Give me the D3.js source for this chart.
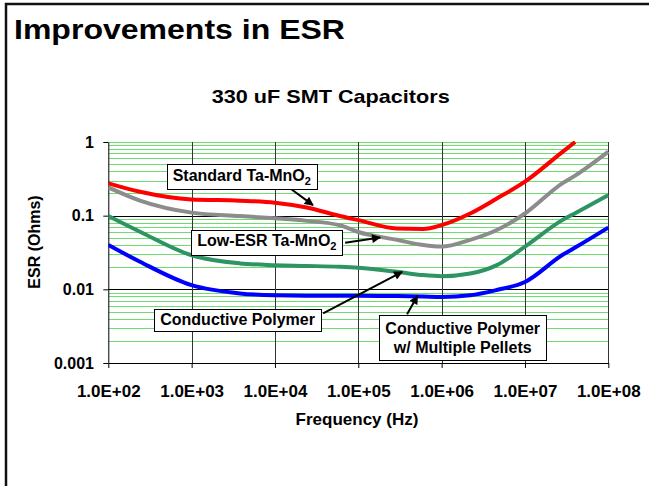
<!DOCTYPE html>
<html>
<head>
<meta charset="utf-8">
<script src="https://cdn.jsdelivr.net/npm/d3@7/dist/d3.min.js"></script>
<style>
  html, body { margin: 0; padding: 0; background: #fff; }
  svg { display: block; font-family: "Liberation Sans", Arial, Helvetica, sans-serif; }
</style>
</head>
<body>
<svg id="chart" width="649" height="486"></svg>
<script>
// ---------------- data ----------------
const frequencies = [1e2, 2.4e2, 1e3, 3.8e3, 1e4, 2.4e4, 6e4, 1e5, 2.9e5, 6e5, 1e6, 2.2e6, 4.6e6, 1e7, 2.8e7, 4e7, 1e8];
const esrStandardTaMnO2 = [0.275, 0.211, 0.166, 0.16, 0.15, 0.129, 0.099, 0.087, 0.067, 0.066, 0.0745, 0.107, 0.171, 0.289, 0.73, 1.0, null];
const esrLowEsrTaMnO2   = [0.242, 0.16, 0.11, 0.099, 0.092, 0.085, 0.074, 0.06, 0.047, 0.04, 0.038, 0.047, 0.064, 0.107, 0.275, 0.35, 0.74];
const esrConductivePolymer = [0.099, 0.0605, 0.029, 0.0225, 0.0213, 0.0208, 0.0202, 0.0196, 0.0173, 0.0156, 0.0151, 0.0164, 0.0213, 0.038, 0.087, 0.108, 0.19];
const esrPolymerMultiPellet = [0.04, 0.0237, 0.0114, 0.0088, 0.0083, 0.0082, 0.0082, 0.0082, 0.0081, 0.008, 0.0079, 0.0083, 0.0098, 0.0126, 0.0292, 0.0369, 0.069];

const seriesNames = ["Standard Ta-MnO2", "Low-ESR Ta-MnO2", "Conductive Polymer", "Conductive Polymer w/ Multiple Pellets"];
const seriesColors = ["#ff0000", "#8c8c8c", "#2e9463", "#0000ff"];

const xTickValues = [1e2, 1e3, 1e4, 1e5, 1e6, 1e7, 1e8];
const xTickLabels = ["1.0E+02", "1.0E+03", "1.0E+04", "1.0E+05", "1.0E+06", "1.0E+07", "1.0E+08"];
const yTickValues = [0.001, 0.01, 0.1, 1];
const yTickLabels = ["0.001", "0.01", "0.1", "1"];

const titleText = "Improvements in ESR";
const subtitleText = "330 uF SMT Capacitors";
const xAxisTitle = "Frequency (Hz)";
const yAxisTitle = "ESR (Ohms)";

// callouts: lines of [text, subscript]; anchor = box centre (freq, esr); arrow from -> to in data units
const calloutLines = [
  [["Standard  Ta-MnO", "2"]],
  [["Low-ESR Ta-MnO", "2"]],
  [["Conductive Polymer", ""]],
  [["Conductive Polymer", ""], ["w/ Multiple Pellets", ""]]
];
const calloutCenters = [[4.0e3, 0.356], [8.0e3, 0.0459], [3.56e3, 0.00388], [1.79e6, 0.00221]];
const arrowFrom = [[1.5e4, 0.237], [6.95e4, 0.0428], [3.78e4, 0.00471], [3.85e5, 0.0046]];
const arrowTo   = [[2.86e4, 0.139], [1.83e5, 0.0507], [3.36e5, 0.0173], [5.13e5, 0.00816]];

// ---------------- layout ----------------
const svg = d3.select("#chart");
const plot = { left: 108.3, right: 608.3, top: 142, bottom: 363 };

const x = d3.scaleLog().domain([1e2, 1e8]).range([plot.left, plot.right]);
const y = d3.scaleLog().domain([0.001, 1]).range([plot.bottom, plot.top]);

// frame (top + left border of slide)
svg.append("rect").attr("x", 6).attr("y", 4).attr("width", 700).attr("height", 600)
  .attr("fill", "none").attr("stroke", "#111").attr("stroke-width", 2.5);

// title
svg.append("text").attr("x", 14).attr("y", 38.5)
  .attr("font-size", 28).attr("font-weight", "bold").attr("fill", "#000")
  .attr("textLength", 331).attr("lengthAdjust", "spacingAndGlyphs")
  .text(titleText);

svg.append("text").attr("x", 211.7).attr("y", 103.3)
  .attr("font-size", 18.5).attr("font-weight", "bold").attr("fill", "#000")
  .attr("textLength", 238).attr("lengthAdjust", "spacingAndGlyphs")
  .text(subtitleText);

// minor gridlines (horizontal)
const minorVals = [];
[0.001, 0.01, 0.1].forEach(dec => { for (let k = 2; k <= 9; k++) minorVals.push(dec * k); });
svg.append("g").selectAll("line").data(minorVals).join("line")
  .attr("x1", plot.left).attr("x2", plot.right)
  .attr("y1", d => Math.round(y(d)) + 0.5).attr("y2", d => Math.round(y(d)) + 0.5)
  .attr("stroke", "#6fdc6f").attr("stroke-width", 1);

// top line at 1 (green)
svg.append("line").attr("x1", plot.left).attr("x2", plot.right)
  .attr("y1", Math.round(y(1)) + 0.5).attr("y2", Math.round(y(1)) + 0.5)
  .attr("stroke", "#6fdc6f").attr("stroke-width", 1);

// major gridlines horizontal
svg.append("g").selectAll("line").data([0.01, 0.1]).join("line")
  .attr("x1", plot.left).attr("x2", plot.right)
  .attr("y1", d => Math.round(y(d)) + 0.5).attr("y2", d => Math.round(y(d)) + 0.5)
  .attr("stroke", "#000").attr("stroke-width", 1);

// vertical gridlines
svg.append("g").selectAll("line").data(xTickValues.slice(1)).join("line")
  .attr("x1", d => Math.round(x(d)) + 0.5).attr("x2", d => Math.round(x(d)) + 0.5)
  .attr("y1", plot.top).attr("y2", plot.bottom)
  .attr("stroke", "#333").attr("stroke-width", 1);

// axes
const xAxis = d3.axisBottom(x).tickValues(xTickValues)
  .tickFormat((d, i) => xTickLabels[i]).tickSize(5).tickSizeOuter(0).tickPadding(16.5);
const gx = svg.append("g").attr("transform", `translate(0,${plot.bottom})`).call(xAxis);
gx.selectAll("text").attr("font-size", 17).attr("font-weight", "bold").attr("fill", "#000")
  .attr("font-family", "Liberation Sans, Arial, sans-serif");
gx.selectAll("line, path").attr("stroke", "#000");

const yAxis = d3.axisLeft(y).tickValues(yTickValues)
  .tickFormat((d, i) => yTickLabels[i]).tickSize(5).tickSizeOuter(0).tickPadding(9.3);
const gy = svg.append("g").attr("transform", `translate(${plot.left},0)`).call(yAxis);
gy.selectAll("text").attr("font-size", 16).attr("font-weight", "bold").attr("fill", "#000")
  .attr("font-family", "Liberation Sans, Arial, sans-serif");
gy.selectAll("line, path").attr("stroke", "#000");

// axis titles
svg.append("text").attr("x", 357).attr("y", 425)
  .attr("text-anchor", "middle").attr("font-size", 17).attr("font-weight", "bold")
  .text(xAxisTitle);
svg.append("text").attr("transform", "translate(40,242) rotate(-90)")
  .attr("text-anchor", "middle").attr("font-size", 16).attr("font-weight", "bold")
  .text(yAxisTitle);

// series
svg.append("defs").append("clipPath").attr("id", "plotclip")
  .append("rect").attr("x", plot.left).attr("y", plot.top - 1)
  .attr("width", plot.right - plot.left + 3).attr("height", plot.bottom - plot.top + 1);

const allSeries = [esrStandardTaMnO2, esrLowEsrTaMnO2, esrConductivePolymer, esrPolymerMultiPellet];
const line = d3.line()
  .defined(d => d[1] != null)
  .x(d => x(d[0])).y(d => y(d[1]))
  .curve(d3.curveMonotoneX);

const gSeries = svg.append("g").attr("clip-path", "url(#plotclip)");
allSeries.forEach((vals, i) => {
  const pts = frequencies.map((f, j) => [f, vals[j]]);
  gSeries.append("path").datum(pts)
    .attr("d", line)
    .attr("fill", "none").attr("stroke", seriesColors[i])
    .attr("stroke-width", 4).attr("stroke-linejoin", "round").attr("stroke-linecap", "butt");
});

// arrow marker
svg.select("defs").append("marker").attr("id", "arrowhead")
  .attr("viewBox", "0 0 10 10").attr("refX", 9).attr("refY", 5)
  .attr("markerWidth", 11).attr("markerHeight", 9).attr("markerUnits", "userSpaceOnUse")
  .attr("orient", "auto")
  .append("path").attr("d", "M0,0 L10,5 L0,10 Z").attr("fill", "#000");

// callouts
calloutLines.forEach((lines, i) => {
  svg.append("line")
    .attr("x1", x(arrowFrom[i][0])).attr("y1", y(arrowFrom[i][1]))
    .attr("x2", x(arrowTo[i][0])).attr("y2", y(arrowTo[i][1]))
    .attr("stroke", "#000").attr("stroke-width", 2)
    .attr("marker-end", "url(#arrowhead)");

  const cx = x(calloutCenters[i][0]);
  const cy = y(calloutCenters[i][1]);
  const g = svg.append("g");
  const rect = g.append("rect");
  const lh = 19.3;
  const n = lines.length;
  lines.forEach((ln, k) => {
    const t = g.append("text")
      .attr("x", cx).attr("y", cy + 5.7 + (k - (n - 1) / 2) * lh)
      .attr("text-anchor", "middle").attr("font-size", 16).attr("font-weight", "bold")
      .attr("fill", "#000");
    t.append("tspan").text(ln[0]);
    if (ln[1]) t.append("tspan").attr("font-size", 11).attr("dy", 4).text(ln[1]);
  });
  const bb = g.node().getBBox();
  const padX = 6, padY = n > 1 ? 4.5 : 2.5;
  rect.attr("x", Math.round(bb.x - padX) + 0.5).attr("y", Math.round(bb.y - padY) + 0.5)
    .attr("width", Math.round(bb.width + 2 * padX)).attr("height", Math.round(bb.height + 2 * padY))
    .attr("fill", "#fff").attr("stroke", "#000").attr("stroke-width", 1);
});
</script>
</body>
</html>
